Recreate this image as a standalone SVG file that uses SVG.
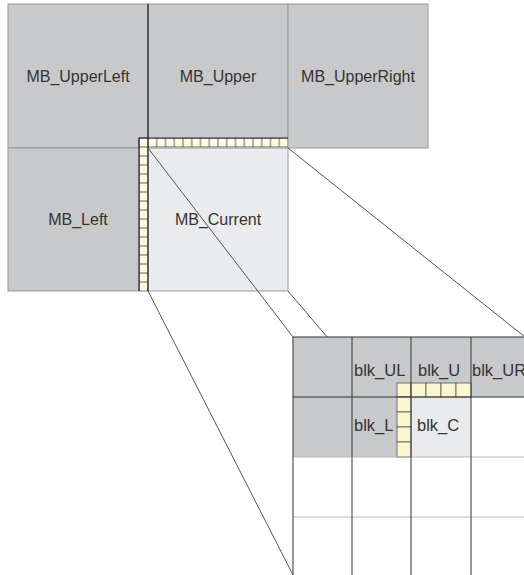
<svg xmlns="http://www.w3.org/2000/svg" width="524" height="575" viewBox="0 0 524 575">
<style>
.mb{fill:#c8c9ca;stroke:#9a9a9a;stroke-width:1}
.cur{fill:#eaebec;stroke:#9a9a9a;stroke-width:1}
.lbl{font-family:"Liberation Sans",Arial,sans-serif;font-size:16px;fill:#333;text-anchor:middle}
.blbl{font-family:"Liberation Sans",Arial,sans-serif;font-size:16.5px;fill:#333}
.px{fill:#fbfbe3;stroke:#444;stroke-width:0.8}
.bpx{fill:#fbf7cf;stroke:#555;stroke-width:0.8}
.dark{stroke:#222;stroke-width:1.2;fill:none}
.grid{stroke:#333;stroke-width:1;fill:none}
.lgrid{stroke:#b8b8b8;stroke-width:1;fill:none}
.conn{stroke:#555;stroke-width:1;fill:none}
</style>
<defs>
<pattern id="hstrip" x="148" y="138" width="8.75" height="9" patternUnits="userSpaceOnUse">
<rect x="0" y="0" width="8.75" height="9" class="px"/>
</pattern>
<pattern id="vstrip" x="139" y="147" width="9" height="9" patternUnits="userSpaceOnUse">
<rect x="0" y="0" width="9" height="9" class="px"/>
</pattern>
</defs>
<g id="MB_UpperLeft">
<rect class="mb" x="8" y="4" width="140" height="144"/>
<text class="lbl" x="78" y="82">MB_UpperLeft</text>
</g>
<g id="MB_Upper">
<rect class="mb" x="148" y="4" width="140" height="144"/>
<text class="lbl" x="218" y="82">MB_Upper</text>
</g>
<g id="MB_UpperRight">
<rect class="mb" x="288" y="4" width="140" height="144"/>
<text class="lbl" x="358" y="82">MB_UpperRight</text>
</g>
<g id="MB_Left">
<rect class="mb" x="8" y="148" width="140" height="143"/>
<text class="lbl" x="78" y="225">MB_Left</text>
</g>
<g id="MB_Current">
<rect class="cur" x="148" y="148" width="140" height="143"/>
<text class="lbl" x="218" y="225">MB_Current</text>
</g>
<g id="MB_strip">
<rect class="px" x="139" y="138" width="9" height="9"/>
<rect x="148" y="138" width="140" height="9" fill="url(#hstrip)"/>
<rect x="139" y="147" width="9" height="144" fill="url(#vstrip)"/>
<line class="dark" x1="139" y1="138" x2="288" y2="138"/>
<line class="dark" x1="139" y1="138" x2="139" y2="291"/>
<line class="dark" x1="148" y1="4" x2="148" y2="291"/>
</g>
<g id="connectors">
<line class="conn" x1="148" y1="148" x2="293" y2="337"/>
<line class="conn" x1="288" y1="148" x2="530" y2="341"/>
<line class="conn" x1="288" y1="291" x2="328" y2="338"/>
<line class="conn" x1="148" y1="291" x2="293" y2="575"/>
</g>
<g id="zoom_grid">
<rect x="293" y="337" width="240" height="245" fill="#fff"/>
<g id="blk_left_col">
<rect x="293" y="337" width="59" height="120" fill="#c8c9ca"/>
</g>
<g id="blk_UL">
<rect x="352" y="337" width="59" height="60" fill="#c8c9ca"/>
<text class="blbl" x="354" y="376">blk_UL</text>
</g>
<g id="blk_U">
<rect x="411" y="337" width="60" height="60" fill="#c8c9ca"/>
<text class="blbl" x="418" y="376">blk_U</text>
</g>
<g id="blk_UR">
<rect x="471" y="337" width="60" height="60" fill="#c8c9ca"/>
<text class="blbl" x="472" y="376">blk_UR</text>
</g>
<g id="blk_L">
<rect x="352" y="397" width="59" height="60" fill="#c8c9ca"/>
<text class="blbl" x="354" y="431">blk_L</text>
</g>
<g id="blk_C">
<rect x="411" y="397" width="60" height="60" fill="#e9eaeb"/>
<text class="blbl" x="417" y="431">blk_C</text>
</g>
<g id="blk_strip">
<rect class="bpx" x="397" y="383" width="14" height="14"/>
<rect class="bpx" x="411" y="383" width="15" height="14"/>
<rect class="bpx" x="426" y="383" width="15" height="14"/>
<rect class="bpx" x="441" y="383" width="15" height="14"/>
<rect class="bpx" x="456" y="383" width="15" height="14"/>
<rect class="bpx" x="397" y="397" width="14" height="15"/>
<rect class="bpx" x="397" y="412" width="14" height="15"/>
<rect class="bpx" x="397" y="427" width="14" height="15"/>
<rect class="bpx" x="397" y="442" width="14" height="15"/>
</g>
<line class="lgrid" x1="293" y1="457" x2="524" y2="457"/>
<line class="lgrid" x1="293" y1="517" x2="524" y2="517"/>
<line class="grid" x1="293" y1="337" x2="524" y2="337"/>
<line class="grid" x1="293" y1="397" x2="524" y2="397"/>
<line class="grid" x1="293" y1="337" x2="293" y2="575"/>
<line class="grid" x1="352" y1="337" x2="352" y2="575"/>
<line class="grid" x1="411" y1="337" x2="411" y2="575"/>
<line class="grid" x1="471" y1="337" x2="471" y2="575"/>
</g>
</svg>
